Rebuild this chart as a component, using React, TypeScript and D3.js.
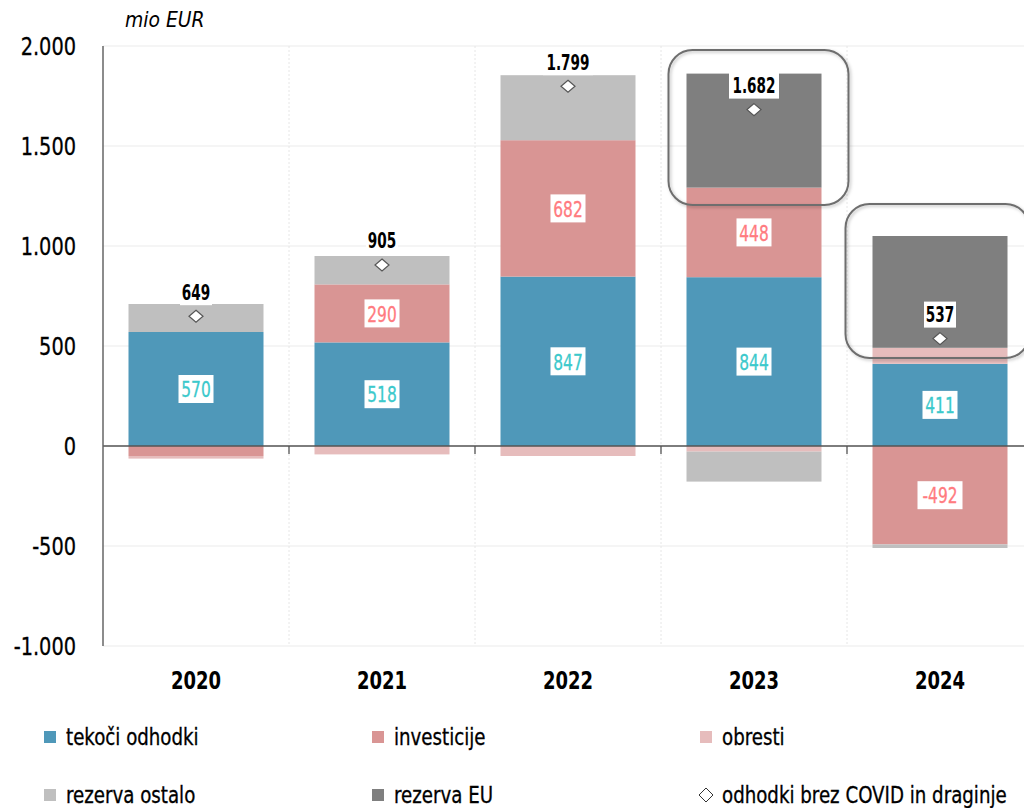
import React from "react";
import * as d3 from "d3";

const years = ["2020", "2021", "2022", "2023", "2024"];
const tekoci = [570, 518, 847, 844, 411];
const investicije = [-50, 290, 682, 448, -492];
const obresti = [-13, -42, -50, -28, 80];
const rezervaOstalo = [140, 142, 325, -150, -18];
const rezervaEU = [0, 0, 0, 570, 559];
const brezCovid = [649, 905, 1799, 1682, 537];
const yTicks = [-1000, -500, 0, 500, 1000, 1500, 2000];

const seriesKeys = ["tekoci", "investicije", "obresti", "rezervaOstalo", "rezervaEU"];
const seriesNames = ["tekoči odhodki", "investicije", "obresti", "rezerva ostalo", "rezerva EU"];
const colors = ["#4f98b9", "#d99594", "#e6bcbc", "#bfbfbf", "#7f7f7f"];
const labelColors: Record<string, string> = { tekoci: "#3cc9cc", investicije: "#ff7b80" };

const W = 1024;
const H = 808;
const FONT = "'DejaVu Sans Condensed', 'DejaVu Sans', sans-serif";

const fmt = (v: number) => {
  const s = Math.abs(v).toString();
  const withDots = s.replace(/\B(?=(\d{3})+(?!\d))/g, ".");
  return (v < 0 ? "-" : "") + withDots;
};

function T(props: any) {
  const { x, y, sx = 0.85, children, ...rest } = props;
  return (
    <text transform={`translate(${x},${y}) scale(${sx},1)`} dominantBaseline="central" {...rest}>
      {children}
    </text>
  );
}

export default function App() {
  const rows = years.map((y, i) => ({
    year: y,
    tekoci: tekoci[i],
    investicije: investicije[i],
    obresti: obresti[i],
    rezervaOstalo: rezervaOstalo[i],
    rezervaEU: rezervaEU[i],
  }));
  const stacked = d3.stack<any>().keys(seriesKeys).offset(d3.stackOffsetDiverging)(rows);

  const x = d3.scaleBand().domain(years).range([103, 1033]).paddingInner(0).paddingOuter(0);
  const y = d3.scaleLinear().domain([-1000, 2000]).range([646, 46]);
  const bw = 135;
  const bx = (yr: string) => (x(yr) as number) + (x.bandwidth() - bw) / 2;
  const cx = (yr: string) => (x(yr) as number) + x.bandwidth() / 2;

  const legendCols = [44, 372, 700];
  const legendRows = [737, 795];

  return (
    <svg width={W} height={H} style={{ position: "absolute", left: 0, top: 0, background: "#fff" }}
      fontFamily={FONT}>
      <defs>
        <filter id="sh" x="-10%" y="-10%" width="130%" height="130%">
          <feDropShadow dx="1.5" dy="1.5" stdDeviation="1.5" floodColor="#000" floodOpacity="0.25" />
        </filter>
      </defs>
      {yTicks.map((t) => (
        <line key={"g" + t} x1={103} x2={W} y1={y(t)} y2={y(t)} stroke="#ebebeb" strokeWidth={1} />
      ))}
      {years.slice(1).map((yr) => (
        <line key={"v" + yr} x1={x(yr) as number} x2={x(yr) as number} y1={y(2000)} y2={y(-1000)}
          stroke="#e6e6e6" strokeWidth={1} strokeDasharray="2,2" />
      ))}
      {stacked.map((s, si) => (
        <g key={s.key} fill={colors[si]}>
          {s.map((d, i) => {
            const h = Math.abs(y(d[0]) - y(d[1]));
            if (h < 0.01) return null;
            return (
              <rect key={i} x={bx(years[i])} width={bw} y={Math.min(y(d[0]), y(d[1]))} height={h} />
            );
          })}
        </g>
      ))}
      <line x1={103} x2={W} y1={y(0)} y2={y(0)} stroke="#555" strokeWidth={1.3} />
      {years.slice(1).map((yr) => (
        <line key={"t" + yr} x1={x(yr) as number} x2={x(yr) as number} y1={y(0)} y2={y(0) + 8}
          stroke="#555" strokeWidth={1.3} />
      ))}
      <line x1={103} x2={103} y1={y(2000)} y2={y(-1000)} stroke="#666" strokeWidth={1.5} />
      {yTicks.map((t) => (
        <T key={"yl" + t} x={76} y={y(t)} sx={0.86} textAnchor="end" fontSize={25} fill="#000"
          stroke="#000" strokeWidth={0.3}>
          {fmt(t)}
        </T>
      ))}
      <T x={125} y={19} sx={0.95} fontSize={22} fontStyle="italic" fill="#000">mio EUR</T>
      {years.map((yr) => (
        <T key={"x" + yr} x={cx(yr)} y={680} sx={0.8} textAnchor="middle" fontSize={25}
          fontWeight="bold" fill="#000">{yr}</T>
      ))}
      <rect x={bx("2023") - 18} y={y(1980)} width={180} height={y(1205) - y(1980)} rx={24}
        fill="none" stroke="#6e6e6e" strokeWidth={2} filter="url(#sh)" />
      <rect x={bx("2024") - 27} y={y(1210)} width={184} height={y(440) - y(1210)} rx={24}
        fill="none" stroke="#6e6e6e" strokeWidth={2} filter="url(#sh)" />
      {stacked.map((s) => {
        if (!(s.key in labelColors)) return null;
        return s.map((d, i) => {
          const v = (d.data as any)[s.key] as number;
          if (Math.abs(v) < 100) return null;
          const mid = (y(d[0]) + y(d[1])) / 2;
          const t = fmt(v);
          const w = t.length * 10 + 5;
          return (
            <g key={s.key + i}>
              <rect x={cx(years[i]) - w / 2} y={mid - 14} width={w} height={28} fill="#fff" />
              <T x={cx(years[i])} y={mid + 1} sx={0.78} textAnchor="middle" fontSize={22}
                fill={labelColors[s.key]} stroke={labelColors[s.key]} strokeWidth={0.3}>{t}</T>
            </g>
          );
        });
      })}
      {brezCovid.map((v, i) => {
        const px = cx(years[i]);
        const py = y(v);
        const t = fmt(v);
        const w = t.length * 9 + 5;
        return (
          <g key={"d" + i}>
            <rect x={px - w / 2} y={py - 37} width={w} height={26} fill="#fff" />
            <T x={px} y={py - 24} sx={0.72} textAnchor="middle" fontSize={21} fontWeight="bold"
              fill="#000">{t}</T>
            <path d={`M${px},${py - 6} L${px + 7},${py} L${px},${py + 6} L${px - 7},${py} Z`}
              fill="#fff" stroke="#555" strokeWidth={1.2} />
          </g>
        );
      })}
      {seriesNames.map((n, i) => {
        const lx = legendCols[i % 3];
        const ly = legendRows[Math.floor(i / 3)];
        return (
          <g key={"lg" + i}>
            <rect x={lx} y={ly - 6} width={12} height={12} fill={colors[i]} />
            <T x={lx + 22} y={ly} sx={0.88} fontSize={23} fill="#000" stroke="#000"
              strokeWidth={0.3}>{n}</T>
          </g>
        );
      })}
      <g>
        <path d={`M${legendCols[2] + 6},${legendRows[1] - 7} L${legendCols[2] + 13},${legendRows[1]} L${legendCols[2] + 6},${legendRows[1] + 7} L${legendCols[2] - 1},${legendRows[1]} Z`}
          fill="#fff" stroke="#333" strokeWidth={1} />
        <T x={legendCols[2] + 22} y={legendRows[1]} sx={0.88} fontSize={23} fill="#000"
          stroke="#000" strokeWidth={0.3}>
          odhodki brez COVID in draginje
        </T>
      </g>
    </svg>
  );
}
